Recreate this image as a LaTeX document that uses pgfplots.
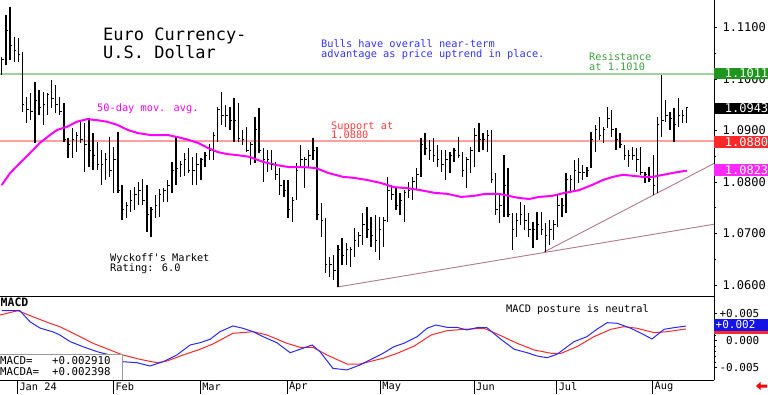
\documentclass[border=0pt]{standalone}
\usepackage{pgfplots}
\pgfplotsset{compat=1.18}
\usepackage{pgfplotstable}
\usepackage{fontspec}
\setmainfont{DejaVu Sans Mono}[Ligatures=TeXOff]

\definecolor{txtblue}{RGB}{50,50,255}
\definecolor{txtgreen}{RGB}{60,160,60}
\definecolor{txtred}{RGB}{255,60,60}
\definecolor{mag}{RGB}{255,0,255}
\definecolor{resline}{RGB}{160,210,160}
\definecolor{supline}{RGB}{255,160,160}
\definecolor{trend}{RGB}{180,120,140}
\definecolor{macdblue}{RGB}{40,40,255}
\definecolor{macdred}{RGB}{255,40,40}
\definecolor{boxgreen}{RGB}{30,150,30}
\definecolor{boxred}{RGB}{255,40,40}
\definecolor{boxmag}{RGB}{255,40,255}
\definecolor{boxblue}{RGB}{20,20,230}

\pgfdeclareplotmark{ctick}{\pgfpathmoveto{\pgfpointorigin}\pgfpathlineto{\pgfpoint{2pt}{0pt}}\pgfusepathqstroke}

\pgfplotstableread{
k h l c
0 1.1043 1.1008 1.1037
1 1.1124 1.1027 1.1095
2 1.1140 1.1037 1.1066
3 1.1082 1.1033 1.1056
4 1.1080 1.1033 1.1047
5 1.1052 1.0936 1.0950
6 1.0965 1.0915 1.0940
7 1.0973 1.0920 1.0936
8 1.0994 1.0876 1.0959
9 1.0979 1.0930 1.0944
10 1.0975 1.0911 1.0950
11 1.0973 1.0930 1.0969
12 1.0998 1.0944 1.0963
13 1.0988 1.0934 1.0950
14 1.0965 1.0930 1.0936
15 1.0953 1.0878 1.0882
16 1.0885 1.0847 1.0872
17 1.0905 1.0847 1.0882
18 1.0897 1.0858 1.0891
19 1.0917 1.0876 1.0882
20 1.0915 1.0819 1.0872
21 1.0924 1.0829 1.0862
22 1.0895 1.0823 1.0852
23 1.0878 1.0823 1.0833
24 1.0862 1.0794 1.0833
25 1.0856 1.0804 1.0843
26 1.0887 1.0810 1.0823
27 1.0868 1.0779 1.0843
28 1.0897 1.0779 1.0784
29 1.0794 1.0726 1.0746
30 1.0761 1.0730 1.0755
31 1.0784 1.0742 1.0765
32 1.0790 1.0746 1.0775
33 1.0800 1.0755 1.0784
34 1.0806 1.0755 1.0765
35 1.0794 1.0703 1.0736
36 1.0751 1.0693 1.0746
37 1.0775 1.0730 1.0755
38 1.0786 1.0732 1.0775
39 1.0788 1.0761 1.0784
40 1.0804 1.0761 1.0794
41 1.0839 1.0779 1.0823
42 1.0887 1.0794 1.0827
43 1.0841 1.0810 1.0833
44 1.0856 1.0812 1.0843
45 1.0866 1.0817 1.0823
46 1.0849 1.0794 1.0823
47 1.0856 1.0794 1.0833
48 1.0847 1.0804 1.0843
49 1.0858 1.0829 1.0852
50 1.0874 1.0843 1.0862
51 1.0897 1.0843 1.0891
52 1.0946 1.0878 1.0940
53 1.0975 1.0911 1.0930
54 1.0950 1.0907 1.0930
55 1.0946 1.0901 1.0920
56 1.0963 1.0878 1.0920
57 1.0953 1.0878 1.0885
58 1.0901 1.0872 1.0882
59 1.0907 1.0858 1.0862
60 1.0878 1.0833 1.0872
61 1.0926 1.0837 1.0901
62 1.0944 1.0856 1.0862
63 1.0866 1.0800 1.0843
64 1.0862 1.0819 1.0843
65 1.0862 1.0823 1.0833
66 1.0839 1.0804 1.0814
67 1.0827 1.0775 1.0794
68 1.0804 1.0771 1.0784
69 1.0804 1.0730 1.0746
70 1.0771 1.0722 1.0765
71 1.0837 1.0765 1.0823
72 1.0872 1.0827 1.0843
73 1.0849 1.0788 1.0843
74 1.0862 1.0827 1.0852
75 1.0885 1.0843 1.0862
76 1.0868 1.0726 1.0736
77 1.0759 1.0693 1.0726
78 1.0730 1.0623 1.0639
79 1.0654 1.0616 1.0639
80 1.0658 1.0610 1.0629
81 1.0678 1.0596 1.0668
82 1.0691 1.0639 1.0658
83 1.0682 1.0639 1.0668
84 1.0674 1.0635 1.0668
85 1.0711 1.0654 1.0687
86 1.0703 1.0674 1.0697
87 1.0740 1.0678 1.0717
88 1.0751 1.0691 1.0707
89 1.0732 1.0674 1.0697
90 1.0736 1.0664 1.0687
91 1.0732 1.0649 1.0707
92 1.0732 1.0674 1.0726
93 1.0810 1.0722 1.0784
94 1.0794 1.0765 1.0775
95 1.0790 1.0746 1.0755
96 1.0779 1.0736 1.0765
97 1.0784 1.0722 1.0780
98 1.0800 1.0769 1.0784
99 1.0810 1.0765 1.0800
100 1.0827 1.0784 1.0814
101 1.0885 1.0810 1.0872
102 1.0895 1.0852 1.0866
103 1.0882 1.0843 1.0862
104 1.0885 1.0839 1.0852
105 1.0872 1.0829 1.0843
106 1.0862 1.0819 1.0833
107 1.0862 1.0804 1.0843
108 1.0858 1.0817 1.0852
109 1.0866 1.0839 1.0862
110 1.0887 1.0847 1.0852
111 1.0858 1.0810 1.0823
112 1.0849 1.0788 1.0843
113 1.0868 1.0817 1.0862
114 1.0905 1.0829 1.0891
115 1.0915 1.0858 1.0882
116 1.0895 1.0862 1.0882
117 1.0901 1.0858 1.0891
118 1.0901 1.0798 1.0804
119 1.0817 1.0736 1.0746
120 1.0779 1.0720 1.0755
121 1.0852 1.0732 1.0794
122 1.0827 1.0732 1.0736
123 1.0740 1.0668 1.0707
124 1.0740 1.0693 1.0726
125 1.0761 1.0717 1.0736
126 1.0755 1.0707 1.0726
127 1.0740 1.0693 1.0707
128 1.0722 1.0672 1.0707
129 1.0742 1.0687 1.0717
130 1.0742 1.0697 1.0707
131 1.0720 1.0664 1.0697
132 1.0726 1.0678 1.0707
133 1.0726 1.0687 1.0717
134 1.0775 1.0713 1.0755
135 1.0769 1.0732 1.0755
136 1.0817 1.0740 1.0804
137 1.0814 1.0779 1.0804
138 1.0843 1.0784 1.0823
139 1.0847 1.0798 1.0819
140 1.0833 1.0804 1.0819
141 1.0829 1.0810 1.0823
142 1.0897 1.0827 1.0882
143 1.0911 1.0858 1.0901
144 1.0926 1.0882 1.0891
145 1.0907 1.0876 1.0901
146 1.0946 1.0905 1.0924
147 1.0940 1.0887 1.0901
148 1.0905 1.0862 1.0882
149 1.0895 1.0866 1.0872
150 1.0872 1.0843 1.0852
151 1.0862 1.0829 1.0852
152 1.0868 1.0843 1.0852
153 1.0866 1.0819 1.0843
154 1.0868 1.0814 1.0819
155 1.0819 1.0798 1.0814
156 1.0829 1.0800 1.0804
157 1.0852 1.0775 1.0794
158 1.0926 1.0779 1.0911
159 1.1008 1.0887 1.0920
160 1.0959 1.0917 1.0930
161 1.0936 1.0901 1.0924
162 1.0944 1.0878 1.0911
163 1.0963 1.0907 1.0930
164 1.0940 1.0915 1.0930
165 1.0946 1.0915 1.0944
}\ohlc

\pgfplotstableread{
k p
0 1.0794
2.0 1.0817
4.4 1.0837
6.8 1.0856
9.2 1.0876
11.6 1.0891
13.3 1.0901
15.7 1.0907
18.1 1.0917
20.6 1.0922
23.0 1.0920
25.4 1.0917
27.8 1.0911
30.4 1.0901
32.8 1.0895
36.0 1.0891
40.1 1.0891
42.5 1.0887
44.9 1.0882
47.3 1.0876
49.7 1.0866
52.1 1.0858
54.5 1.0854
56.9 1.0852
59.6 1.0849
63.0 1.0839
66.1 1.0833
69.2 1.0829
72.6 1.0829
75.7 1.0827
78.9 1.0817
82.2 1.0810
84.9 1.0808
88.0 1.0804
91.4 1.0798
94.5 1.0790
97.7 1.0788
101.0 1.0784
104.2 1.0779
107.3 1.0777
110.7 1.0771
113.8 1.0773
116.5 1.0777
119.8 1.0777
122.2 1.0773
124.6 1.0769
127.1 1.0767
129.5 1.0771
132.6 1.0773
135.7 1.0779
139.1 1.0784
142.2 1.0794
144.9 1.0804
147.3 1.0810
149.7 1.0814
152.1 1.0812
154.5 1.0810
156.9 1.0810
159.4 1.0814
162.7 1.0819
165.1 1.0822
}\ma

\pgfplotstableread{
k v
0 0.00556
4.4 0.00556
6.8 0.00351
9.2 0.00233
12.4 0.00159
14.0 0.00103
16.5 -0.00022
19.6 -0.00116
23.0 -0.00209
26.1 -0.00271
29.2 -0.00396
32.6 -0.00414
35.7 -0.00476
38.9 -0.00396
42.2 -0.00271
45.4 -0.00084
47.8 -0.00041
50.2 0.00022
52.6 0.00164
55.7 0.00271
58.1 0.00228
60.6 0.00164
63.0 0.00071
66.3 -0.00041
69.5 -0.00228
71.9 -0.00164
74.8 -0.00084
76.7 -0.00209
79.8 -0.00519
83.2 -0.00550
86.3 -0.00457
88.7 -0.00364
91.9 -0.00239
94.5 -0.00116
96.9 -0.00052
100.1 0.00071
102.5 0.00228
104.6 0.00289
107.3 0.00246
109.7 0.00246
112.1 0.00196
114.5 0.00239
116.9 0.00239
120.3 0.00022
123.5 -0.00164
126.6 -0.00228
129.0 -0.00289
131.4 -0.00321
133.8 -0.00258
137.9 -0.00022
141.0 0.00071
143.4 0.00209
145.9 0.00332
148.3 0.00321
151.6 0.00228
154.1 0.00134
156.7 0.00028
159.6 0.00209
162.0 0.00239
164.9 0.00270
}\macd

\pgfplotstableread{
k v
-0.4 0.00476
3.9 0.00556
7.5 0.00444
11.6 0.00321
14.0 0.00258
18.1 0.00103
22.0 -0.00052
26.1 -0.00177
29.2 -0.00271
33.3 -0.00351
37.4 -0.00414
39.8 -0.00383
43.7 -0.00271
47.8 -0.00164
50.9 -0.00065
55.7 0.00134
60.6 0.00164
63.9 0.00103
68.7 -0.00052
71.9 -0.00127
75.0 -0.00127
78.4 -0.00271
83.2 -0.00439
86.3 -0.00439
91.9 -0.00332
95.3 -0.00239
99.4 -0.00103
103.5 0.00103
107.3 0.00183
111.4 0.00209
116.2 0.00228
119.4 0.00121
124.2 -0.00052
128.3 -0.00177
132.4 -0.00239
134.8 -0.00239
138.6 -0.00116
142.7 0.00071
146.8 0.00209
149.9 0.00258
153.1 0.00228
157.2 0.00146
160.3 0.00164
164.9 0.00215
}\macda

\begin{document}
\begin{tikzpicture}[x=1pt,y=1pt]
\path[use as bounding box] (0,0) rectangle (768,394);

% ---------------- price panel ----------------
\begin{axis}[at={(0pt,98pt)}, anchor=south west, scale only axis,
  width=714pt, height=296pt,
  xmin=-0.41, xmax=171.64, ymin=1.05786, ymax=1.11534,
  axis x line*=bottom, axis y line*=right, clip=false,
  axis line style={black, line width=0.8pt},
  xtick=\empty,
  ytick={1.06,1.07,1.08,1.09,1.10,1.11},
  yticklabels={1.0600,1.0700,1.0800,1.0900,1.1000,1.1100},
  minor y tick num=1, ytick align=outside,
  major tick length=3pt, minor tick length=2pt,
  tick style={black, line width=0.6pt},
  yticklabel style={font=\fontsize{12}{12}\selectfont, anchor=west, xshift=2pt},
]
\addplot[resline, line width=1.5pt] coordinates {(-0.41,1.1010) (171.64,1.1010)};
\addplot[supline, line width=1.5pt] coordinates {(-0.41,1.0880) (171.64,1.0880)};
\addplot[trend, line width=0.9pt] coordinates {(80.8,1.0596) (171.64,1.0718)};
\addplot[trend, line width=0.9pt] coordinates {(130.7,1.0664) (171.64,1.0836)};

\addplot[only marks, mark=ctick, black, mark options={line width=1pt},
  error bars/.cd, y dir=both, y explicit, error mark=none,
  error bar style={line width=1.3pt, black}]
  table[x=k, y=c, y error plus expr=\thisrow{h}-\thisrow{c},
        y error minus expr=\thisrow{c}-\thisrow{l}] {\ohlc};

\addplot[mag, line width=2pt] table[x=k, y=p] {\ma};

\node[fill=boxgreen, text=white, anchor=west, inner sep=0pt, minimum height=11.5pt,
  text width=54pt, align=right, font=\fontsize{12}{12}\selectfont]
  at (axis cs:171.64,1.1011) {1.1011};
\node[fill=black, text=white, anchor=west, inner sep=0pt, minimum height=11.5pt,
  text width=54pt, align=right, font=\fontsize{12}{12}\selectfont]
  at (axis cs:171.64,1.0943) {1.0943};
\node[fill=boxred, text=white, anchor=west, inner sep=0pt, minimum height=11.5pt,
  text width=54pt, align=right, font=\fontsize{12}{12}\selectfont]
  at (axis cs:171.64,1.0878) {1.0880};
\node[fill=boxmag, text=white, anchor=west, inner sep=0pt, minimum height=11.5pt,
  text width=54pt, align=right, font=\fontsize{12}{12}\selectfont]
  at (axis cs:171.64,1.0823) {1.0823};
\end{axis}

% ---------------- MACD panel ----------------
\begin{axis}[at={(0pt,14pt)}, anchor=south west, scale only axis,
  width=714pt, height=84pt,
  xmin=-0.41, xmax=171.64, ymin=-0.00737, ymax=0.0083,
  axis x line*=bottom, axis y line*=right, clip=false,
  axis line style={black, line width=0.8pt},
  xtick={3.76,26.9,47.8,68.7,91.2,113.8,133.7,156.8},
  xticklabels={Jan 24,Feb,Mar,Apr,May,Jun,Jul,Aug},
  xtick align=inside, x tick style={draw=none},
  xticklabel style={anchor=west, inner sep=0pt, yshift=-7pt, xshift=2pt, font=\fontsize{10.3}{10.3}\selectfont},
  ytick={-0.005,0,0.005},
  yticklabels={-0.005,\phantom{+}0.000,+0.005},
  scaled y ticks=false,
  minor y tick num=4, ytick align=outside,
  major tick length=3pt, minor tick length=2pt,
  y tick style={black, line width=0.6pt},
  yticklabel style={font=\fontsize{11}{11}\selectfont, anchor=west, xshift=-1pt},
]
\addplot[macdred, line width=1pt] table[x=k, y=v] {\macda};
\addplot[macdblue, line width=1pt] table[x=k, y=v] {\macd};
\pgfplotsinvokeforeach{3.76,26.9,47.8,68.7,91.2,113.8,133.7,156.8}{
  \draw[black, line width=0.6pt] (axis cs:#1,-0.00737) -- ++(0pt,-14pt);
}
\node[fill=boxred, anchor=west, inner sep=0pt, minimum height=12pt, minimum width=54pt]
  at (axis cs:171.64,0.0023) {};
\node[fill=boxblue, text=white, anchor=west, inner sep=0pt, minimum height=12pt,
  text width=54pt, align=left, font=\fontsize{11}{11}\selectfont]
  at (axis cs:171.64,0.0029) {\hspace*{1.5pt}+0.002};
\end{axis}

% ---------------- annotations ----------------
\node[anchor=base west, inner sep=0pt, font=\fontsize{17}{17}\selectfont] at (103,353) {Euro Currency-};
\node[anchor=base west, inner sep=0pt, font=\fontsize{17}{17}\selectfont] at (103,335) {U.S. Dollar};
\node[anchor=base west, inner sep=0pt, text=txtblue, font=\fontsize{10.3}{10.3}\selectfont] at (321,346.5) {Bulls have overall near-term};
\node[anchor=base west, inner sep=0pt, text=txtblue, font=\fontsize{10.3}{10.3}\selectfont] at (321,336.5) {advantage as price uptrend in place.};
\node[anchor=base west, inner sep=0pt, text=txtgreen, font=\fontsize{10.3}{10.3}\selectfont] at (589,333.5) {Resistance};
\node[anchor=base west, inner sep=0pt, text=txtgreen, font=\fontsize{10.3}{10.3}\selectfont] at (589,323.5) {at 1.1010};
\node[anchor=base west, inner sep=0pt, text=mag, font=\fontsize{10.3}{10.3}\selectfont] at (97,282.5) {50-day mov. avg.};
\node[anchor=base west, inner sep=0pt, text=txtred, font=\fontsize{10.3}{10.3}\selectfont] at (331,264.5) {Support at};
\node[anchor=base west, inner sep=0pt, text=txtred, font=\fontsize{10.3}{10.3}\selectfont] at (331,255.5) {1.0880};
\node[anchor=base west, inner sep=0pt, font=\fontsize{10.3}{10.3}\selectfont] at (110,132.5) {Wyckoff's Market};
\node[anchor=base west, inner sep=0pt, font=\fontsize{10.3}{10.3}\selectfont] at (110,122.5) {Rating: 6.0};
\node[anchor=base west, inner sep=0pt, font=\fontsize{10.3}{10.3}\selectfont] at (506,82) {MACD posture is neutral};
\node[anchor=base west, inner sep=0pt, font=\bfseries\fontsize{11.5}{11.5}\selectfont] at (0.5,87.3) {MACD};
\filldraw[fill=white, draw=gray!80, line width=0.7pt] (-1,14) rectangle (122.7,40);
\node[anchor=base west, inner sep=0pt, font=\fontsize{10.8}{10.8}\selectfont] at (0,30) {MACD=~~~+0.002910};
\node[anchor=base west, inner sep=0pt, font=\fontsize{10.8}{10.8}\selectfont] at (0,18.4) {MACDA=~~+0.002398};
\draw[black, line width=0.8pt] (0,14) -- (714,14);
\fill[red] (756,8) -- (760.5,12) -- (760.5,9.5) -- (767,9.5) -- (767,6.5) -- (760.5,6.5) -- (760.5,4) -- cycle;
\end{tikzpicture}
\end{document}
